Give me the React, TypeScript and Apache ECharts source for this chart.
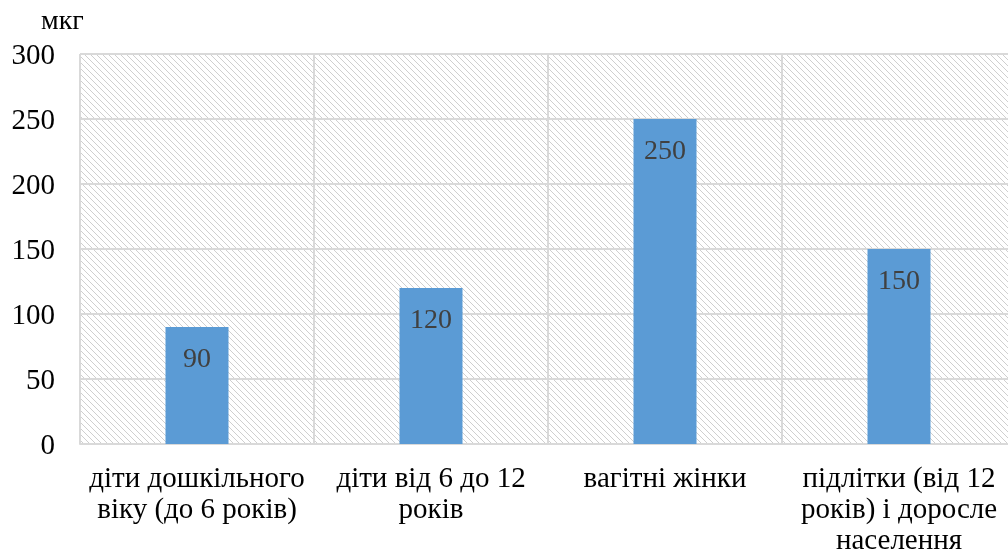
import React, { useEffect, useRef } from "react";
import * as echarts from "echarts";

const categories = [
  "діти дошкільного\nвіку (до 6 років)",
  "діти від 6 до 12\nроків",
  "вагітні жінки",
  "підлітки (від 12\nроків) і доросле\nнаселення",
];
const values = [90, 120, 250, 150];
const unitLabel = "мкг";

const FONT = "'Liberation Serif', 'Times New Roman', serif";

function makeHatch(): HTMLCanvasElement {
  const size = 6;
  const c = document.createElement("canvas");
  c.width = size;
  c.height = size;
  const ctx = c.getContext("2d")!;
  ctx.fillStyle = "#ffffff";
  ctx.fillRect(0, 0, size, size);
  ctx.strokeStyle = "#cfcfcf";
  ctx.lineWidth = 1;
  ctx.beginPath();
  ctx.moveTo(-1, -1);
  ctx.lineTo(size + 1, size + 1);
  ctx.moveTo(-1, size - 1);
  ctx.lineTo(1, size + 1);
  ctx.moveTo(size - 1, -1);
  ctx.lineTo(size + 1, 1);
  ctx.stroke();
  return c;
}

export default function App() {
  const ref = useRef<HTMLDivElement>(null);
  useEffect(() => {
    const chart = echarts.init(ref.current!, null, { renderer: "svg" });
    chart.setOption({
      animation: false,
      textStyle: { fontFamily: FONT },
      graphic: [
        {
          type: "text",
          left: 41,
          top: 5,
          style: { text: unitLabel, font: `28px ${FONT}`, fill: "#000" },
        },
      ],
      grid: {
        left: 80,
        right: 0,
        top: 54,
        bottom: 113,
        outerBoundsMode: "none",
        containLabel: false,
        show: true,
        borderWidth: 0,
        backgroundColor: { image: makeHatch(), repeat: "repeat" } as any,
      },
      xAxis: {
        type: "category",
        data: categories,
        axisTick: { show: false },
        axisLine: { lineStyle: { color: "#d9d9d9", width: 2 } },
        splitLine: { show: true, lineStyle: { color: "#d9d9d9", width: 2 } },
        axisLabel: {
          interval: 0,
          margin: 17,
          fontSize: 29,
          lineHeight: 31,
          color: "#000",
          fontFamily: FONT,
        },
      },
      yAxis: {
        type: "value",
        min: 0,
        max: 300,
        interval: 50,
        axisLine: { show: false },
        axisTick: { show: false },
        splitLine: { lineStyle: { color: "#d9d9d9", width: 2 } },
        axisLabel: { fontSize: 29, color: "#000", margin: 25, fontFamily: FONT },
      },
      series: [
        {
          type: "bar",
          data: values,
          barWidth: 63,
          itemStyle: { color: "#5b9bd5" },
          label: {
            show: true,
            position: "insideTop",
            distance: 16,
            fontSize: 28,
            color: "#404040",
            fontFamily: FONT,
          },
        },
      ],
    });
    return () => chart.dispose();
  }, []);
  return (
    <div
      style={{
        position: "fixed",
        left: 0,
        top: 0,
        width: 1008,
        height: 557,
        overflow: "hidden",
      }}
    >
      <div ref={ref} style={{ width: 1016, height: 557 }} />
    </div>
  );
}
